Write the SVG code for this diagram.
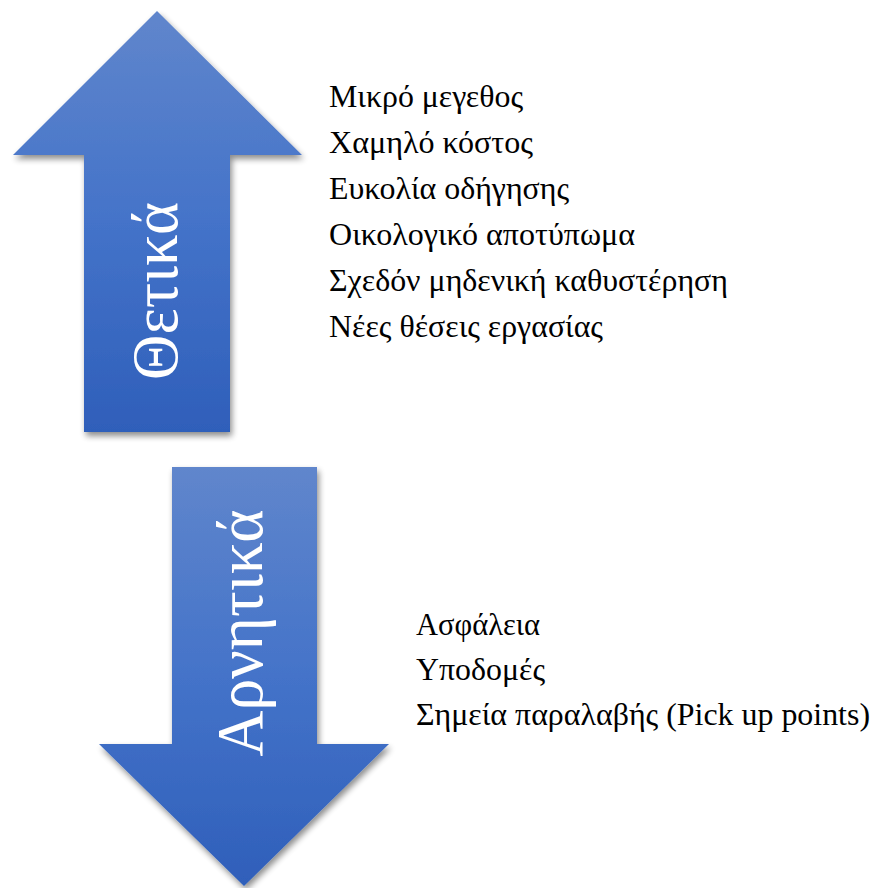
<svg xmlns="http://www.w3.org/2000/svg" width="874" height="888" viewBox="0 0 874 888">
<defs>
<linearGradient id="gArrow" x1="0" y1="0" x2="0" y2="1">
<stop offset="0" stop-color="#6086cc"/>
<stop offset="0.5" stop-color="#4473c9"/>
<stop offset="1" stop-color="#2f5fba"/>
</linearGradient>
<filter id="sh" x="-10%" y="-10%" width="125%" height="125%">
<feGaussianBlur in="SourceAlpha" stdDeviation="3"/>
<feOffset dx="2" dy="4" result="b"/>
<feComponentTransfer><feFuncA type="linear" slope="0.45"/></feComponentTransfer>
<feMerge><feMergeNode/><feMergeNode in="SourceGraphic"/></feMerge>
</filter>
</defs>
<style>
text{font-family:'Liberation Serif','Times New Roman','DejaVu Serif',serif}
.lbl{fill:#ffffff;font-size:66px}
.item{fill:#000000;font-size:32px}
</style>
<rect width="874" height="888" fill="#ffffff"/>
<g id="positive">
<polygon points="157,11 302,155 230,155 230,432 84,432 84,155 13,155" fill="url(#gArrow)" filter="url(#sh)"/>
<text class="lbl" transform="translate(177,291) rotate(-90)" text-anchor="middle" textLength="178" lengthAdjust="spacingAndGlyphs">Θετικά</text>
</g>
<g id="negative">
<polygon points="172,467 317,467 317,744 389,744 244,886 99,744 172,744" fill="url(#gArrow)" filter="url(#sh)"/>
<text class="lbl" transform="translate(262,633) rotate(-90)" text-anchor="middle" textLength="247" lengthAdjust="spacingAndGlyphs">Αρνητικά</text>
</g>
<g id="positive-list">
<text class="item" x="329" y="107" textLength="194" lengthAdjust="spacingAndGlyphs">Μικρό μεγεθος</text>
<text class="item" x="329" y="153" textLength="204" lengthAdjust="spacingAndGlyphs">Χαμηλό κόστος</text>
<text class="item" x="329" y="199" textLength="240" lengthAdjust="spacingAndGlyphs">Ευκολία οδήγησης</text>
<text class="item" x="329" y="245" textLength="306" lengthAdjust="spacingAndGlyphs">Οικολογικό αποτύπωμα</text>
<text class="item" x="329" y="291" textLength="399" lengthAdjust="spacingAndGlyphs">Σχεδόν μηδενική καθυστέρηση</text>
<text class="item" x="329" y="337" textLength="274" lengthAdjust="spacingAndGlyphs">Νέες θέσεις εργασίας</text>
</g>
<g id="negative-list">
<text class="item" x="416" y="635" textLength="124" lengthAdjust="spacingAndGlyphs">Ασφάλεια</text>
<text class="item" x="416" y="680" textLength="129" lengthAdjust="spacingAndGlyphs">Υποδομές</text>
<text class="item" x="416" y="725" textLength="454" lengthAdjust="spacingAndGlyphs">Σημεία παραλαβής (Pick up points)</text>
</g>
<g id="connectors"></g>
</svg>
